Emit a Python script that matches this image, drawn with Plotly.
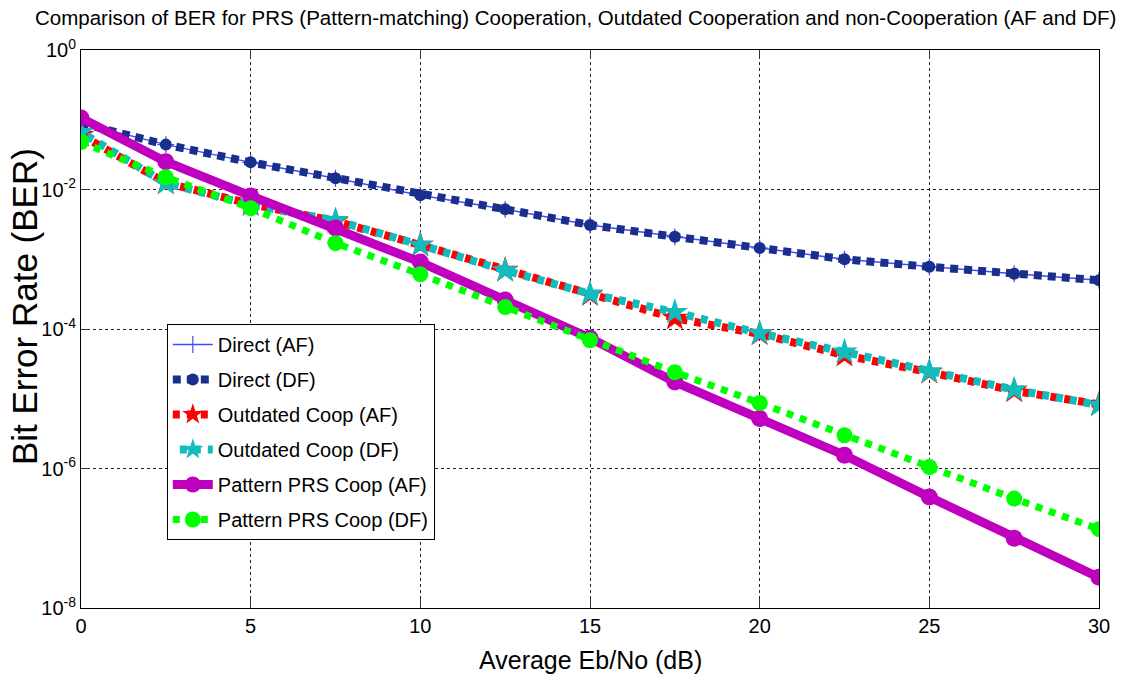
import plotly.graph_objects as go

ebno = [0, 2.5, 5, 7.5, 10, 12.5, 15, 17.5, 20, 22.5, 25, 27.5, 30]
direct_af = [0.089, 0.044, 0.0245, 0.0145, 0.0083, 0.0052, 0.0031, 0.0021, 0.00145, 0.0010, 0.00078, 0.00062, 0.0005]
direct_df = [0.089, 0.044, 0.0245, 0.0145, 0.0083, 0.0052, 0.0031, 0.0021, 0.00145, 0.0010, 0.00078, 0.00062, 0.0005]
outdated_af = [0.060, 0.0125, 0.0062, 0.0035, 0.0016, 0.00070, 0.00031, 0.000143, 8.5e-5, 4.2e-5, 2.4e-5, 1.3e-5, 8.3e-6]
outdated_df = [0.066, 0.0123, 0.0060, 0.0036, 0.0016, 0.00069, 0.00032, 0.000174, 8.7e-5, 4.7e-5, 2.45e-5, 1.35e-5, 8.1e-6]
prs_af = [0.106, 0.025, 0.0081, 0.0028, 0.00091, 0.00026, 7.4e-5, 1.74e-5, 5.2e-6, 1.55e-6, 3.9e-7, 1.0e-7, 2.75e-8]
prs_df = [0.048, 0.015, 0.0054, 0.0017, 0.00061, 0.000206, 6.9e-5, 2.4e-5, 8.7e-6, 3.0e-6, 1.05e-6, 3.7e-7, 1.35e-7]

names = ["Direct (AF)", "Direct (DF)", "Outdated Coop (AF)", "Outdated Coop (DF)",
         "Pattern PRS Coop (AF)", "Pattern PRS Coop (DF)"]
ytick_vals = [1, 1e-2, 1e-4, 1e-6, 1e-8]
ytick_text = ["10<sup>0</sup>", "10<sup>-2</sup>", "10<sup>-4</sup>", "10<sup>-6</sup>", "10<sup>-8</sup>"]
xtick_vals = [0, 5, 10, 15, 20, 25, 30]

FONT = "Liberation Sans, Arial, sans-serif"

fig = go.Figure()
fig.add_trace(go.Scatter(x=ebno, y=direct_af, name=names[0], mode="lines+markers", legendgroup="a",
                         line=dict(color="#4848ff", width=1.5),
                         marker=dict(symbol="cross-thin", size=12, line=dict(color="#4848ff", width=1.2))))
fig.add_trace(go.Scatter(x=ebno, y=direct_df, name=names[1], mode="lines+markers", legendgroup="b",
                         line=dict(color="#1a2f8c", width=8, dash="8px,6px"),
                         marker=dict(symbol="circle", size=12, color="#1a2f8c")))
fig.add_trace(go.Scatter(x=ebno, y=outdated_af, name=names[2], mode="lines+markers", legendgroup="c",
                         line=dict(color="#ff0000", width=8, dash="7px,7px"),
                         marker=dict(symbol="star", size=20, color="#ff0000")))
fig.add_trace(go.Scatter(x=ebno, y=outdated_df, name=names[3], mode="lines+markers", legendgroup="d",
                         line=dict(color="#12bcbc", width=8, dash="0px,7px,7px,0px"),
                         marker=dict(symbol="star", size=20, color="#12bcbc")))
fig.add_trace(go.Scatter(x=ebno, y=prs_af, name=names[4], mode="lines+markers", legendgroup="e",
                         line=dict(color="#bf00bf", width=9),
                         marker=dict(symbol="circle", size=17, color="#bf00bf")))
fig.add_trace(go.Scatter(x=ebno, y=prs_df, name=names[5], mode="lines+markers", legendgroup="f",
                         line=dict(color="#00ff00", width=7, dash="7px,7px"),
                         marker=dict(symbol="circle", size=16, color="#00ff00")))

axis_common = dict(showline=True, linecolor="black", linewidth=1, mirror="ticks",
                   ticks="inside", ticklen=9, tickcolor="#333333",
                   showgrid=True, gridcolor="#222222", gridwidth=1, griddash="dot",
                   zeroline=False, tickfont=dict(family=FONT, size=20, color="black"))

fig.update_xaxes(range=[0, 30], tickmode="array", tickvals=xtick_vals, **axis_common)
fig.update_yaxes(type="log", range=[-8, 0], tickmode="array", tickvals=ytick_vals,
                 ticktext=ytick_text, **axis_common)

fig.update_layout(
    width=1122, height=682,
    margin=dict(l=81, r=21, t=50, b=74),
    paper_bgcolor="white", plot_bgcolor="white",
    showlegend=True,
    legend=dict(x=0.0843, y=0.509, xanchor="left", yanchor="top",
                bordercolor="black", borderwidth=1, bgcolor="white",
                font=dict(family=FONT, size=20, color="black"),
                itemwidth=40, tracegroupgap=6, traceorder="grouped"),
    annotations=[
        dict(text="Comparison of BER for PRS (Pattern-matching) Cooperation, Outdated Cooperation and non-Cooperation (AF and DF)",
             xref="paper", yref="paper", x=(576 - 81) / 1020, y=(608 - 17) / 558,
             xanchor="center", yanchor="middle", showarrow=False,
             font=dict(family=FONT, size=20.5, color="black")),
        dict(text="Average Eb/No (dB)", xref="paper", yref="paper",
             x=0.5, y=(608 - 660) / 558, xanchor="center", yanchor="middle", showarrow=False,
             font=dict(family=FONT, size=25, color="black")),
        dict(text="Bit Error Rate (BER)", xref="paper", yref="paper", textangle=-90,
             x=(24 - 81) / 1020, y=(608 - 307) / 558, xanchor="center", yanchor="middle", showarrow=False,
             font=dict(family=FONT, size=35, color="black")),
    ],
)

fig.write_html("out.html")
